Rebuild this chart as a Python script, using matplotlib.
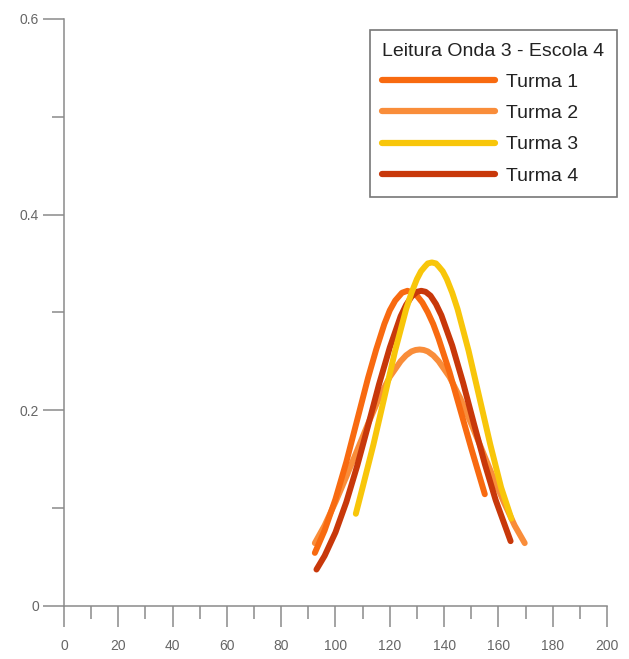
import matplotlib.pyplot as plt
from matplotlib.ticker import MultipleLocator, FuncFormatter

plt.rcParams['font.family'] = ['Liberation Sans', 'DejaVu Sans']

# curve points per class (score, proportion)
turma1_x = [92.4, 96, 100, 104, 108, 112, 115, 118, 120, 122, 124.5, 126.5, 128.5, 130,
            132, 134, 136, 138, 142, 146, 150, 155]
turma1_y = [0.054, 0.077, 0.109, 0.147, 0.190, 0.233, 0.262, 0.288, 0.302, 0.312, 0.320,
            0.322, 0.320, 0.317, 0.310, 0.300, 0.288, 0.273, 0.239, 0.200, 0.161, 0.114]

turma2_x = [92.4, 96, 100, 104, 108, 112, 116, 120, 124, 126, 128, 129.5, 131, 132.5, 134,
            136, 138, 142, 146, 150, 154, 158, 162, 166, 169.7]
turma2_y = [0.064, 0.082, 0.106, 0.132, 0.159, 0.186, 0.212, 0.234, 0.250, 0.256, 0.260,
            0.2615, 0.262, 0.2615, 0.260, 0.256, 0.250, 0.234, 0.212, 0.186, 0.159, 0.132,
            0.106, 0.082, 0.064]

turma3_x = [107.5, 110, 114, 118, 122, 126, 128, 130, 131.5, 133, 134, 135.5, 137, 138,
            139.5, 141, 143, 145, 149, 153, 157, 161, 164.8]
turma3_y = [0.094, 0.121, 0.165, 0.213, 0.261, 0.303, 0.320, 0.334, 0.342, 0.347, 0.350,
            0.351, 0.350, 0.347, 0.342, 0.334, 0.320, 0.303, 0.261, 0.213, 0.165, 0.121,
            0.089]

turma4_x = [93, 96, 100, 104, 108, 112, 116, 120, 124, 126, 128, 130, 131.6, 133.2, 135,
            137, 139, 143, 147, 151, 155, 159, 164.5]
turma4_y = [0.037, 0.051, 0.075, 0.106, 0.143, 0.184, 0.226, 0.264, 0.296, 0.3075, 0.316,
            0.321, 0.322, 0.321, 0.317, 0.3085, 0.297, 0.266, 0.228, 0.186, 0.145, 0.108,
            0.066]

series = {
    'Turma 1': (turma1_x, turma1_y, '#f86a10'),
    'Turma 2': (turma2_x, turma2_y, '#f98d3a'),
    'Turma 3': (turma3_x, turma3_y, '#f8c60a'),
    'Turma 4': (turma4_x, turma4_y, '#c8380a'),
}
draw_order = {'Turma 2': 1, 'Turma 1': 2, 'Turma 4': 3, 'Turma 3': 4}

fig = plt.figure(figsize=(6.29, 6.59), dpi=100)
ax = fig.add_axes([0.1017, 0.0809, 0.8633, 0.8903])

for name, (xs, ys, col) in series.items():
    ax.plot(xs, ys, color=col, lw=4.3, solid_capstyle='round',
            solid_joinstyle='round', label=name, zorder=draw_order[name])

ax.set_xlim(0, 200)
ax.set_ylim(0, 0.6)

axis_col = '#8a8a8a'
for side in ['top', 'right']:
    ax.spines[side].set_visible(False)
for side in ['left', 'bottom']:
    ax.spines[side].set_color(axis_col)
    ax.spines[side].set_linewidth(1.1)

ax.xaxis.set_major_locator(MultipleLocator(20))
ax.xaxis.set_minor_locator(MultipleLocator(10))
ax.yaxis.set_major_locator(MultipleLocator(0.2))
ax.yaxis.set_minor_locator(MultipleLocator(0.1))
ax.yaxis.set_major_formatter(FuncFormatter(lambda v, p: '%g' % round(v, 2)))

ax.tick_params(which='major', direction='out', length=15, width=1.1, color=axis_col,
               labelsize=10, labelcolor='#666666')
ax.tick_params(axis='x', which='major', pad=9)
ax.tick_params(axis='y', which='major', pad=3)
ax.tick_params(which='minor', direction='out', length=9, width=1.1, color=axis_col)
for lab in ax.get_xticklabels() + ax.get_yticklabels():
    lab.set_clip_on(False)

leg = ax.legend(title='Leitura Onda 3 - Escola 4', loc='upper right',
                bbox_to_anchor=(617 / 629, 1 - 30 / 659), bbox_transform=fig.transFigure,
                borderaxespad=0, fancybox=False, fontsize=14, title_fontsize=14,
                handlelength=5.8, handletextpad=0.55, labelspacing=0.7,
                borderpad=0.65, framealpha=1, alignment='left')
leg.get_frame().set_edgecolor('#777777')
leg.get_frame().set_linewidth(1.2)
for line in leg.get_lines():
    line.set_linewidth(4.5)
for t in leg.get_texts():
    t.set_color('#222222')
leg.get_title().set_color('#222222')

fig.savefig('out.png', dpi=100)
